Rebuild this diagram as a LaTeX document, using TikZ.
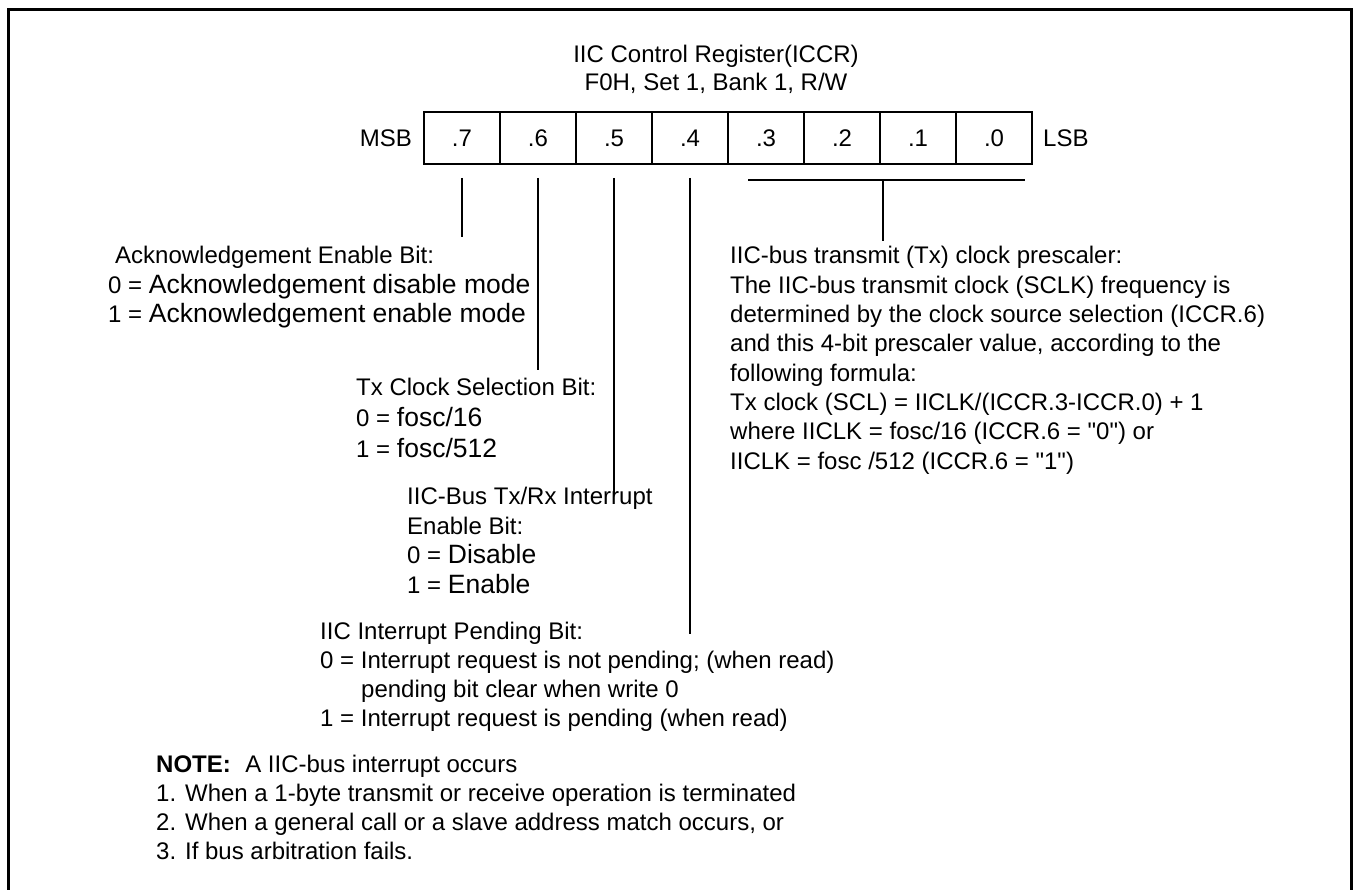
\documentclass[tikz,border=0pt]{standalone}
\usepackage{fontspec}
\setmainfont{Liberation Sans}[Ligatures=TeXOff]
\usetikzlibrary{positioning}
\tikzset{
  bitcell/.style={rectangle, draw=black, line width=1.6pt, minimum width=76pt, minimum height=52pt, inner sep=0pt, outer sep=0pt, font=\fontsize{24}{29}\selectfont},
  tag/.style={inner sep=0pt, font=\fontsize{24}{29}\selectfont},
  desc/.style={anchor=base west, align=left, inner sep=0pt, font=\fontsize{24}{29.5}\selectfont},
  lead/.style={line width=1.6pt},
}
\newcommand{\bigword}[1]{{\fontsize{26.5}{29.5}\selectfont #1}}

\begin{document}
\begin{tikzpicture}[x=1pt, y=-1pt]
\useasboundingbox (0,0) rectangle (1354,890);
\draw[line width=3pt] (8.5,890) -- (8.5,10) -- (1351.5,10) -- (1351.5,890);
% multi-line texts are placed at the baseline of their last line
\node[desc, anchor=base, align=center, font=\fontsize{24}{28}\selectfont] (title) at (716,91) {IIC Control Register(ICCR)\\F0H, Set 1, Bank 1, R/W};
% register bits
\node[bitcell] (b7) at (462,138) {.7};
\node[bitcell, right=0pt of b7] (b6) {.6};
\node[bitcell, right=0pt of b6] (b5) {.5};
\node[bitcell, right=0pt of b5] (b4) {.4};
\node[bitcell, right=0pt of b4] (b3) {.3};
\node[bitcell, right=0pt of b3] (b2) {.2};
\node[bitcell, right=0pt of b2] (b1) {.1};
\node[bitcell, right=0pt of b1] (b0) {.0};
\node[tag, left=12pt of b7] (msb) {MSB};
\node[tag, right=11pt of b0] (lsb) {LSB};
% lead ends
\coordinate (e7) at (462,237); \coordinate (e6) at (538,370);
\coordinate (e5) at (614,495); \coordinate (e4) at (690,634);
\coordinate (brl) at (748,180); \coordinate (brr) at (1025,180);
\coordinate (brm) at (883,180); \coordinate (bre) at (883,241);
\draw[lead]([yshift=-14pt]b7.south)--(e7); \draw[lead]([yshift=-14pt]b6.south)--(e6);
\draw[lead]([yshift=-14pt]b5.south)--(e5); \draw[lead]([yshift=-14pt]b4.south)--(e4);
\draw[lead](brl)--(brr); \draw[lead](brm)--(bre);
% descriptions
\node[desc] (ack) at (108,323) {\hspace*{7pt}Acknowledgement Enable Bit:\\0 = \bigword{Acknowledgement disable mode}\\1 = \bigword{Acknowledgement enable mode}};
\node[desc, font=\fontsize{24}{31}\selectfont] (txsel) at (356,457) {Tx Clock Selection Bit:\\0 = \bigword{fosc/16}\\1 = \bigword{fosc/512}};
\node[desc] (txrx) at (407,593) {IIC-Bus Tx/Rx Interrupt\\Enable Bit:\\0 = \bigword{Disable}\\1 = \bigword{Enable}};
\node[desc, font=\fontsize{24}{29}\selectfont] (pend) at (320,726) {IIC Interrupt Pending Bit:\\0 = Interrupt request is not pending; (when read)\\\hspace*{41pt}pending bit clear when write 0\\1 = Interrupt request is pending (when read)};
\node[desc, font=\fontsize{24}{29.3}\selectfont] (presc) at (730,469) {IIC-bus transmit (Tx) clock prescaler:\\The IIC-bus transmit clock (SCLK) frequency is\\determined by the clock source selection (ICCR.6)\\and this 4-bit prescaler value, according to the\\following formula:\\Tx clock (SCL) = IICLK/(ICCR.3-ICCR.0) + 1\\where IICLK = fosc/16 (ICCR.6 = "0") or\\IICLK = fosc /512 (ICCR.6 = "1")};
\node[desc, font=\fontsize{24}{29}\selectfont] (note) at (156,859) {\textbf{NOTE:}\hspace{0.6em}A IIC-bus interrupt occurs\\1. When a 1-byte transmit or receive operation is terminated\\2. When a general call or a slave address match occurs, or\\3. If bus arbitration fails.};
\end{tikzpicture}
\end{document}
